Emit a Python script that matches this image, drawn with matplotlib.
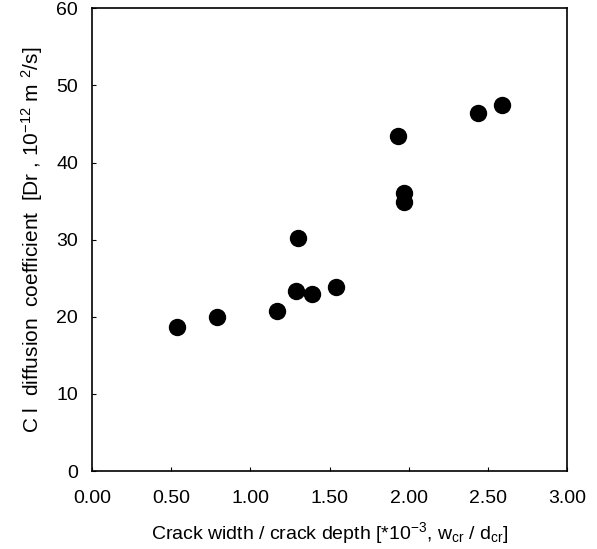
import matplotlib
matplotlib.use("Agg")
import matplotlib.pyplot as plt

# crack ratio (x 10^-3) vs chloride diffusion coefficient
crack_ratio = [0.54, 0.79, 1.17, 1.29, 1.30, 1.39, 1.54, 1.93, 1.97, 1.97, 2.44, 2.59]
diff_coef = [18.7, 20.0, 20.7, 23.4, 30.2, 23.0, 23.9, 43.4, 36.0, 34.9, 46.4, 47.4]

x_ticks = [0.0, 0.5, 1.0, 1.5, 2.0, 2.5, 3.0]
y_ticks = [0, 10, 20, 30, 40, 50, 60]

plt.rcParams['font.family'] = ['Liberation Sans', 'DejaVu Sans']
plt.rcParams['mathtext.default'] = 'regular'

fig = plt.figure(figsize=(5.97, 5.49), dpi=100)
ax = fig.add_axes([0.154, 0.142, 0.796, 0.843])

ax.plot(crack_ratio, diff_coef, 'o', color='black', markersize=11.5, linestyle='none')

ax.set_xlim(0, 3)
ax.set_ylim(0, 60)
ax.set_xticks(x_ticks)
ax.set_xticklabels([f'{v:.2f}' for v in x_ticks])
ax.set_yticks(y_ticks)
ax.tick_params(direction='in', length=3, width=0.8, labelsize=14)
ax.tick_params(axis='x', pad=14)
ax.tick_params(axis='y', pad=10)
for s in ax.spines.values():
    s.set_linewidth(1.2)

ax.set_xlabel('Crack width / crack depth [*10$^{-3}$, w$_{cr}$ / d$_{cr}$]', fontsize=14, labelpad=9)
ax.set_ylabel('C l  diffusion  coefficient  [Dr , 10$^{-12}$ m $^{2}$/s]', fontsize=15, labelpad=8)

fig.savefig('out.png', dpi=100)
